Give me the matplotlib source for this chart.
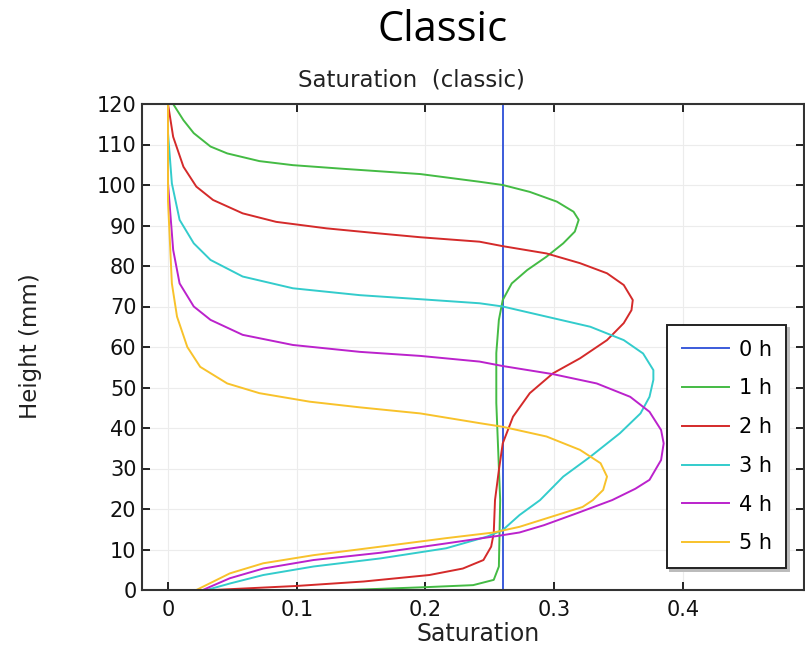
import matplotlib.pyplot as plt

# saturation profiles, top (120 mm) to bottom (0 mm)
sat_0h = [0.26, 0.26]
h_0h = [0, 120]

h_1h = [120, 116, 112.8, 109.5, 107.8, 105.9, 104.9, 104, 102.7, 100.8,
        100, 98.3, 95.9, 93.4, 91.4, 88.5, 85.6, 82.3, 79, 75.7,
        71.6, 66.7, 58.5, 46.2, 22.2, 5.8, 2.5, 1.2, 0.7, 0]
sat_1h = [0.004, 0.012, 0.020, 0.033, 0.046, 0.071, 0.097, 0.136, 0.196, 0.242,
          0.260, 0.281, 0.302, 0.315, 0.319, 0.316, 0.307, 0.294, 0.279, 0.267,
          0.260, 0.257, 0.255, 0.255, 0.258, 0.257, 0.253, 0.237, 0.2, 0.14]

h_2h = [120, 111.9, 104.5, 99.6, 96.3, 93, 90.9, 89.3, 88.1, 87.1,
        86, 84.9, 83.1, 80.7, 78.2, 75.3, 71.6, 69.1, 65.9, 61.7,
        57.2, 53.5, 48.6, 42.8, 36.2, 29.6, 22.2, 14, 10.7, 7.4,
        5.3, 3.7, 2.1, 1, 0]
sat_2h = [0, 0.004, 0.012, 0.022, 0.035, 0.058, 0.084, 0.123, 0.162, 0.196,
          0.242, 0.260, 0.294, 0.320, 0.341, 0.354, 0.361, 0.360, 0.354, 0.341,
          0.320, 0.299, 0.281, 0.268, 0.260, 0.257, 0.254, 0.253, 0.251, 0.245,
          0.229, 0.203, 0.152, 0.1, 0.035]

h_3h = [120, 112.8, 100.4, 91.4, 85.6, 81.5, 77.4, 74.5, 72.8, 71.8,
        70.8, 70, 67.5, 65, 61.7, 58.4, 54.3, 51.9, 47.7, 43.6,
        38.7, 32.9, 28, 22.2, 18.5, 14.8, 13.2, 10.3, 7.8, 5.8,
        3.7, 1.6, 0]
sat_3h = [0, 0, 0.003, 0.009, 0.020, 0.033, 0.058, 0.097, 0.149, 0.196,
          0.242, 0.260, 0.294, 0.328, 0.354, 0.369, 0.377, 0.377, 0.374, 0.367,
          0.351, 0.328, 0.307, 0.289, 0.273, 0.26, 0.248, 0.216, 0.165, 0.113,
          0.074, 0.048, 0.030]

h_4h = [120, 100.4, 84, 75.7, 70, 66.7, 63, 60.5, 58.8, 57.8,
        56.4, 55.3, 53.3, 51, 47.7, 44, 39.5, 36.2, 32.1, 27.2,
        25, 22.2, 19, 16, 14.2, 13.3, 11.5, 9.2, 7.4, 5.3,
        2.9, 0]
sat_4h = [0, 0, 0.004, 0.009, 0.020, 0.033, 0.058, 0.097, 0.149, 0.196,
          0.242, 0.260, 0.299, 0.333, 0.359, 0.374, 0.383, 0.385, 0.383, 0.374,
          0.363, 0.345, 0.318, 0.292, 0.273, 0.255, 0.216, 0.165, 0.113, 0.074,
          0.048, 0.027]

h_5h = [120, 96, 75.7, 67.5, 60, 55.1, 51, 48.6, 46.5, 45.1,
        43.6, 41.2, 40.3, 37.9, 34.6, 31.3, 28, 24.7, 22.2, 20.5,
        15.6, 14.2, 12.8, 10.7, 8.6, 6.6, 4.1, 0]
sat_5h = [0, 0, 0.003, 0.007, 0.015, 0.025, 0.046, 0.071, 0.110, 0.149,
          0.196, 0.242, 0.260, 0.294, 0.320, 0.336, 0.341, 0.338, 0.330, 0.322,
          0.273, 0.253, 0.216, 0.165, 0.113, 0.074, 0.048, 0.022]

labels = ["0 h", "1 h", "2 h", "3 h", "4 h", "5 h"]
colors = ["#3b5bdb", "#44bb44", "#d42a2a", "#33cccc", "#bb22cc", "#f8c22b"]
x_ticks = [0, 0.1, 0.2, 0.3, 0.4]
y_ticks = list(range(0, 121, 10))

fig = plt.figure(figsize=(8.05, 6.49), dpi=100)
ax = fig.add_axes([142 / 805, 59 / 649, 662 / 805, 486 / 649])

series = [(sat_0h, h_0h), (sat_1h, h_1h), (sat_2h, h_2h),
          (sat_3h, h_3h), (sat_4h, h_4h), (sat_5h, h_5h)]
for (s, h), lab, c in zip(series, labels, colors):
    ax.plot(s, h, color=c, lw=1.4, label=lab, solid_joinstyle="round")

ax.set_xlim(-0.0202, 0.494)
ax.set_ylim(0, 120)
ax.set_xticks(x_ticks)
ax.set_xticklabels(["0", "0.1", "0.2", "0.3", "0.4"])
ax.set_yticks(y_ticks)
ax.grid(True, color="#ececec", lw=0.8)
ax.set_axisbelow(True)
ax.tick_params(direction="in", length=6, width=1.4, labelsize=15, color="#222222",
               top=True, right=True, labelcolor="#111111")
ax.tick_params(axis="x", pad=7)
ax.tick_params(axis="y", pad=4)
for sp in ax.spines.values():
    sp.set_color("#333333")
    sp.set_linewidth(1.5)

leg = ax.legend(loc="upper left", bbox_to_anchor=(0.793, 0.545), borderaxespad=0,
                fontsize=15, handlelength=2.3, handletextpad=0.45, labelspacing=0.9,
                borderpad=0.7, fancybox=False, shadow={"color": "#bbbbbb", "alpha": 1},
                framealpha=1)
leg.get_frame().set_edgecolor("#222222")
leg.get_frame().set_linewidth(1.4)

fig.text(443 / 805, 1 - 30 / 649, "Classic", fontsize=30, family="Open Sans",
         ha="center", va="center")
fig.text(411 / 805, 1 - 80 / 649, "Saturation  (classic)", fontsize=16.5,
         ha="center", va="center", color="#222222")
fig.text(30 / 805, 1 - 346 / 649, "Height (mm)", fontsize=16.5, rotation=90,
         ha="center", va="center", color="#222222")
fig.text(478 / 805, 1 - 634 / 649, "Saturation", fontsize=17,
         ha="center", va="center", color="#222222")

fig.savefig("out.png", dpi=100)
